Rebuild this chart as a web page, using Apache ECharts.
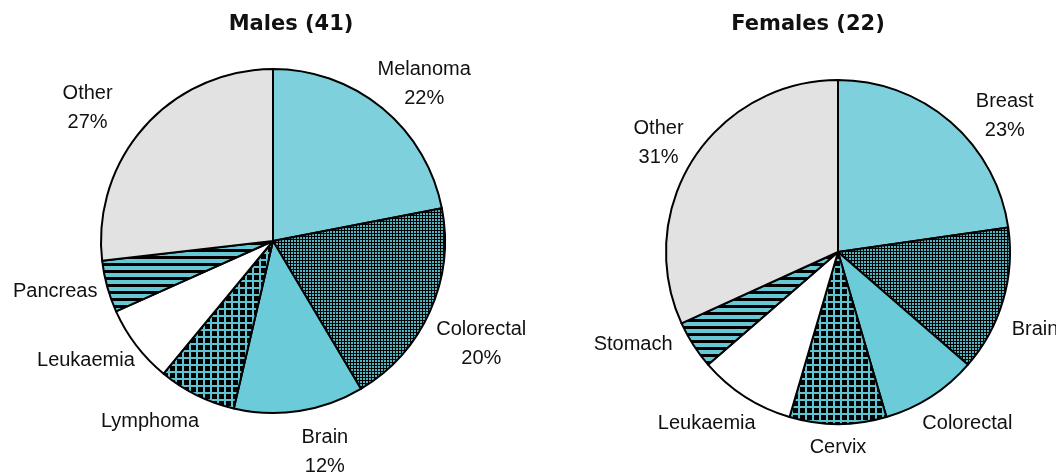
<!DOCTYPE html>
<html>
<head>
<meta charset="utf-8">
<script src="https://cdn.jsdelivr.net/npm/echarts@6/dist/echarts.min.js"></script>
<style>
  html, body { margin: 0; padding: 0; background: #fff; }
  #chart { width: 1056px; height: 472px; }
</style>
</head>
<body>
<div id="chart"></div>
<script>
  // 数据
  const maleTitle = 'Males (41)'
  const maleNames = ['Melanoma', 'Colorectal', 'Brain', 'Lymphoma', 'Leukaemia', 'Pancreas', 'Other']
  const maleValues = [9, 8, 5, 3, 3, 2, 11]
  const malePct = ['22%', '20%', '12%', '', '', '', '27%']

  const femaleTitle = 'Females (22)'
  const femaleNames = ['Breast', 'Brain', 'Colorectal', 'Cervix', 'Leukaemia', 'Stomach', 'Other']
  const femaleValues = [5, 3, 2, 2, 2, 1, 7]
  const femalePct = ['23%', '', '', '', '', '', '31%']

  const RADIUS = 172
  const maleCenter = [273, 241]
  const femaleCenter = [838, 252]
  // 标签微调 (px)
  const maleLabelNudge = [[-10, 11], [-1, 0], [3, 4], [6, 5], [5, -4], [-2, -12], [-26, 16]]
  const femaleLabelNudge = [[20, 29], [1, 12], [-13, 6], [0, 1], [15, 6], [-14, -19], [-3, 17]]

  // 填充图案
  const pattern = (size, draw) => {
    const c = document.createElement('canvas')
    c.width = size
    c.height = size
    draw(c.getContext('2d'), size)
    return { image: c, repeat: 'repeat' }
  }
  const dots = pattern(3, (ctx, s) => {
    ctx.fillStyle = '#000'
    ctx.fillRect(0, 0, s, s)
    ctx.fillStyle = '#4fb6c3'
    ctx.fillRect(0, 0, 2, 2)
  })
  const grid = pattern(7, (ctx, s) => {
    ctx.fillStyle = '#000'
    ctx.fillRect(0, 0, s, s)
    ctx.fillStyle = '#5fc4d1'
    ctx.fillRect(0, 0, s, 2)
    ctx.fillRect(0, 0, 2, s)
  })
  const stripes = pattern(7, (ctx, s) => {
    ctx.fillStyle = '#66c8d5'
    ctx.fillRect(0, 0, s, s)
    ctx.fillStyle = '#000'
    ctx.fillRect(0, 4, s, 3)
  })
  // 两个饼图的扇区顺序一致
  const fills = ['#7dd0dc', dots, '#6ccbd8', grid, '#ffffff', stripes, '#e2e2e2']

  const clamp = (v) => Math.max(-1, Math.min(1, v))

  // 标签放在扇区中点方向的外侧（类似 Excel）
  const labelLayoutFor = (values, center, nudge) => {
    const total = values.reduce((a, b) => a + b, 0)
    return (params) => {
      const i = params.dataIndex
      let before = 0
      for (let k = 0; k < i; k++) before += values[k]
      const mid = ((before + values[i] / 2) / total) * Math.PI * 2
      const dx = Math.sin(mid)
      const dy = -Math.cos(mid)
      const gap = 8
      const w = params.labelRect.width
      const h = params.labelRect.height
      return {
        x: center[0] + dx * (RADIUS + gap) + (clamp(dx * 6) * w) / 2 + nudge[i][0],
        y: center[1] + dy * (RADIUS + gap) + (clamp(dy * 6) * h) / 2 + nudge[i][1],
        align: 'center',
        verticalAlign: 'middle'
      }
    }
  }

  const buildSeries = (names, values, pct, center, nudge) => ({
    type: 'pie',
    center: center,
    radius: RADIUS,
    startAngle: 90,
    clockwise: true,
    avoidLabelOverlap: false,
    animation: false,
    itemStyle: {
      borderColor: '#000',
      borderWidth: 2
    },
    label: {
      show: true,
      position: 'outside',
      fontFamily: 'Liberation Sans',
      fontSize: 20,
      lineHeight: 29,
      color: '#111',
      align: 'center',
      formatter: (p) => (pct[p.dataIndex] ? p.name + '\n' + pct[p.dataIndex] : p.name)
    },
    labelLine: { show: false },
    labelLayout: labelLayoutFor(values, center, nudge),
    emphasis: { disabled: true },
    data: names.map((name, i) => ({
      name: name,
      value: values[i],
      itemStyle: { color: fills[i] }
    }))
  })

  const myChart = echarts.init(document.getElementById('chart'))
  const option = {
    backgroundColor: '#fff',
    title: [
      {
        text: maleTitle,
        left: 291,
        top: 14,
        textAlign: 'center',
        padding: 0,
        textStyle: { fontFamily: 'DejaVu Sans', fontWeight: 'bold', fontSize: 21, color: '#111' }
      },
      {
        text: femaleTitle,
        left: 808,
        top: 14,
        textAlign: 'center',
        padding: 0,
        textStyle: { fontFamily: 'DejaVu Sans', fontWeight: 'bold', fontSize: 21, color: '#111' }
      }
    ],
    series: [
      buildSeries(maleNames, maleValues, malePct, maleCenter, maleLabelNudge),
      buildSeries(femaleNames, femaleValues, femalePct, femaleCenter, femaleLabelNudge)
    ]
  }
  myChart.setOption(option)
</script>
</body>
</html>
